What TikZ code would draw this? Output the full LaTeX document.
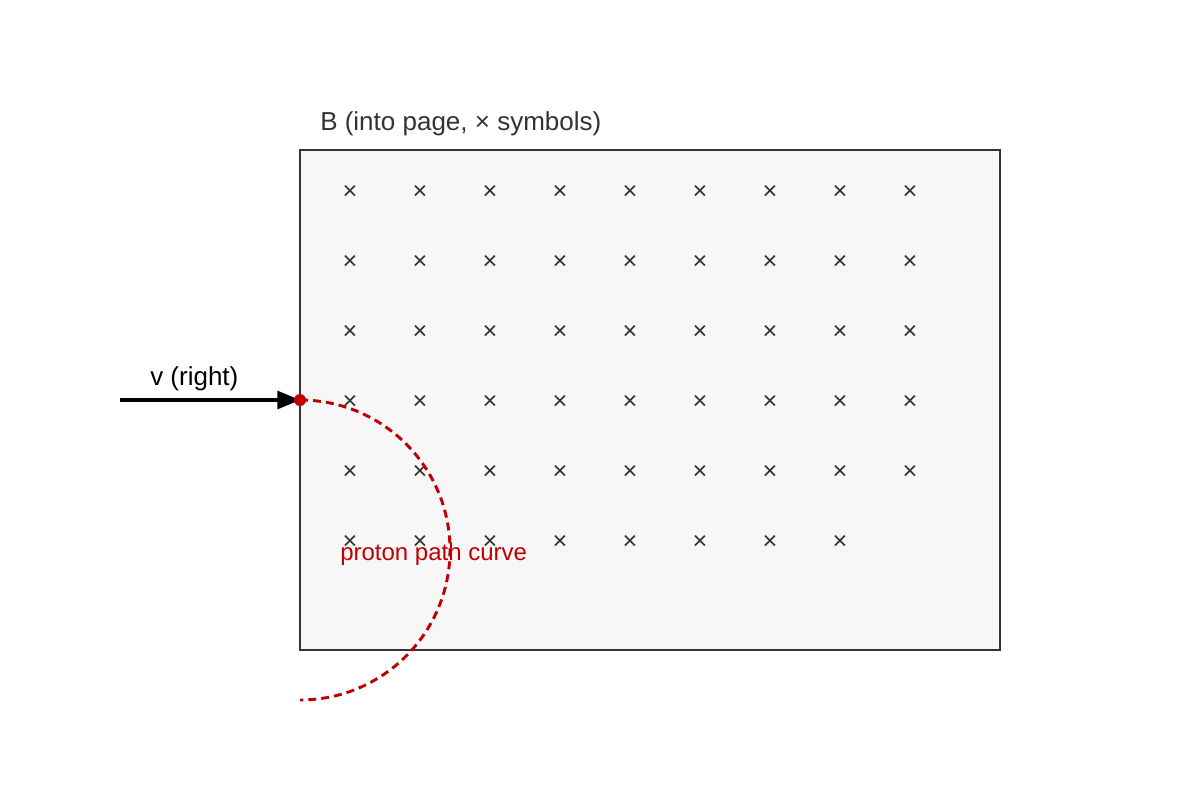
\documentclass[tikz,border=0pt]{standalone}
\usepackage{fontspec}
\setmainfont{Liberation Sans}
\usetikzlibrary{arrows.meta}
\definecolor{boxgray}{HTML}{333333}
\definecolor{fieldfill}{HTML}{F7F7F7}
\definecolor{pathred}{HTML}{C00000}
\tikzset{
  cross/.style={text=boxgray, inner sep=0pt, font=\fontsize{19}{22}\selectfont},
  label/.style={anchor=base west, inner sep=0pt},
}
\begin{document}
\begin{tikzpicture}[x=0.75pt,y=-0.75pt]
\useasboundingbox (0,0) rectangle (1200,800);
\node[draw=boxgray, fill=fieldfill, line width=1.5pt, minimum width=525pt, minimum height=375pt, inner sep=0pt] (field) at (650,400) {};
\node[label, text=boxgray, font=\fontsize{19.5}{23}\selectfont] (title) at (320,130) {B (into page, × symbols)};
\foreach \row in {0,...,4}
  \foreach \col in {0,...,8}
    \node[cross] (x-\row-\col) at ({350+70*\col},{192+70*\row}) {×};
\foreach \col in {0,...,7}
  \node[cross] (x-5-\col) at ({350+70*\col},542) {×};

\coordinate (start) at (120,400);
\coordinate (entry) at (300,400);
\path[draw,line width=2.3pt,-{Triangle[length=17pt,width=13.5pt]}] (start) -- (entry);
\node[label, font=\fontsize{19.5}{23}\selectfont] (vlabel) at (150,385) {v (right)};
\path[draw,color=pathred,line width=2.2pt,dash pattern=on 6pt off 3.75pt] (entry) arc[start angle=90, end angle=-90, radius=112.5pt];
\node[circle, fill=pathred, inner sep=0pt, minimum size=9pt] (entrydot) at (entry) {};
\node[label, text=pathred, font=\fontsize{18}{21}\selectfont] (pathlabel) at (340,560) {proton path curve};
\end{tikzpicture}
\end{document}
